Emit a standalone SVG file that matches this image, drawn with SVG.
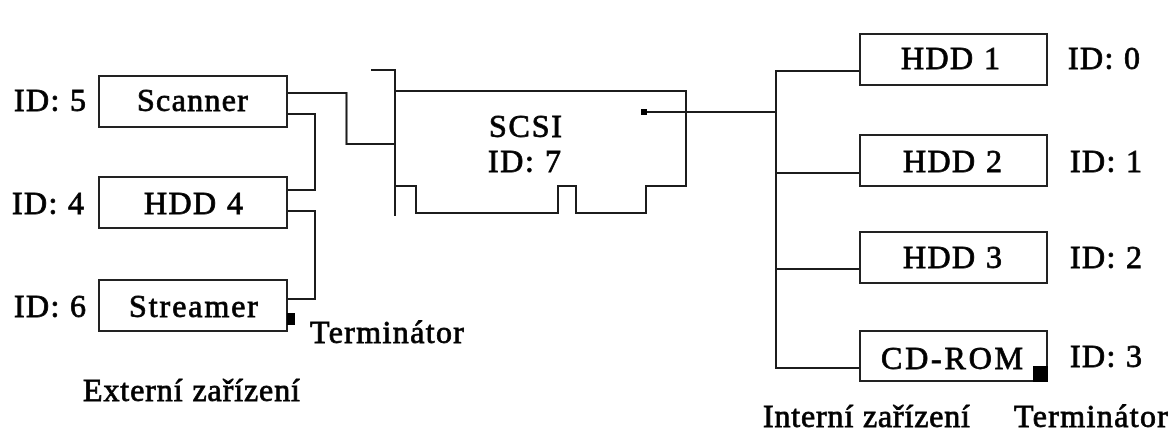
<svg xmlns="http://www.w3.org/2000/svg" width="1171" height="435" viewBox="0 0 1171 435">
<defs><filter id="soft" x="0" y="0" width="1" height="1" filterUnits="objectBoundingBox"><feGaussianBlur stdDeviation="0.45"/></filter></defs>
<style>
.b{fill:#fff;stroke:#222;stroke-width:2}
.c{fill:none;stroke:#1a1a1a;stroke-width:2}
.k{fill:#000}
text{font-family:"Liberation Serif","Times New Roman",serif;font-size:32px;fill:#000;stroke:#000;stroke-width:.8}
</style>
<rect width="1171" height="435" fill="#fff"/>
<g filter="url(#soft)">
<rect width="1171" height="435" fill="#fff"/>
<g id="connectors">
<path class="c" d="M287 93H346.500V144H395"/>
<path class="c" d="M287 114H315V190H287"/>
<path class="c" d="M287 211H315V299H287"/>
<path class="c" d="M644 112H776"/>
<path class="c" d="M860 71H776V368H860"/>
<path class="c" d="M776 173H860"/>
<path class="c" d="M776 269H860"/>
</g>
<g id="scsi">
<path class="c" d="M371 70H395V216"/>
<path class="c" d="M395 91H686V186H646V213H576V186H558V213H416V186H395"/>
<rect class="k" x="641" y="109" width="6" height="6"/>
<text x="489" y="137" textLength="73">SCSI</text>
<text x="488" y="172" textLength="73">ID: 7</text>
</g>
<g id="scanner"><rect class="b" x="99" y="76" width="188" height="51"/><text x="137" y="111" textLength="111">Scanner</text><text x="14" y="111" textLength="72">ID: 5</text></g>
<g id="hdd4"><rect class="b" x="99" y="177" width="188" height="51"/><text x="144" y="214" textLength="99">HDD 4</text><text x="12" y="214" textLength="72">ID: 4</text></g>
<g id="streamer"><rect class="b" x="99" y="280" width="188" height="51"/><text x="129" y="317" textLength="129">Streamer</text><text x="14" y="317" textLength="72">ID: 6</text>
<rect class="k" x="287" y="313" width="8" height="12"/></g>
<g id="hdd1"><rect class="b" x="860" y="34" width="187" height="51"/><text x="901" y="69" textLength="99">HDD 1</text><text x="1068" y="69" textLength="72">ID: 0</text></g>
<g id="hdd2"><rect class="b" x="860" y="135" width="187" height="51"/><text x="903" y="172" textLength="99">HDD 2</text><text x="1070" y="172" textLength="72">ID: 1</text></g>
<g id="hdd3"><rect class="b" x="860" y="232" width="187" height="51"/><text x="903" y="268" textLength="99">HDD 3</text><text x="1070" y="268" textLength="72">ID: 2</text></g>
<g id="cdrom"><rect class="b" x="860" y="331" width="187" height="50"/><text x="881" y="369" textLength="142">CD-ROM</text><text x="1070" y="367" textLength="72">ID: 3</text>
<rect class="k" x="1033" y="366" width="15" height="16"/></g>
<g id="labels">
<text x="310" y="343" textLength="154">Terminátor</text>
<text x="83" y="401" textLength="217">Externí zařízení</text>
<text x="763" y="427" textLength="207">Interní zařízení</text>
<text x="1014" y="427" textLength="154">Terminátor</text>
</g>
</g>
</svg>
